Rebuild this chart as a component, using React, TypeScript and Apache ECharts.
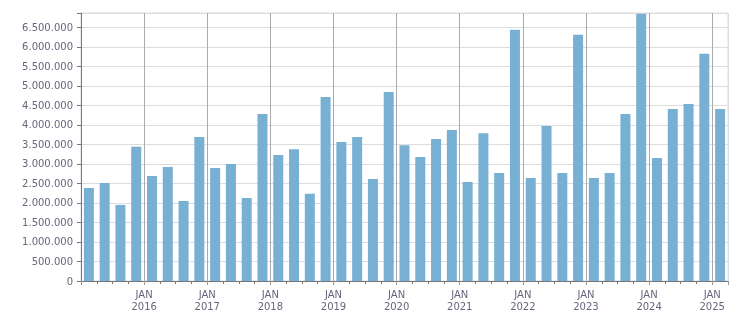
import React, { useEffect, useRef } from "react";
import * as echarts from "echarts";

// Quarterly values, Q1 2015 .. Q1 2025
const quarters: string[] = [
  "2015Q1","2015Q2","2015Q3","2015Q4",
  "2016Q1","2016Q2","2016Q3","2016Q4",
  "2017Q1","2017Q2","2017Q3","2017Q4",
  "2018Q1","2018Q2","2018Q3","2018Q4",
  "2019Q1","2019Q2","2019Q3","2019Q4",
  "2020Q1","2020Q2","2020Q3","2020Q4",
  "2021Q1","2021Q2","2021Q3","2021Q4",
  "2022Q1","2022Q2","2022Q3","2022Q4",
  "2023Q1","2023Q2","2023Q3","2023Q4",
  "2024Q1","2024Q2","2024Q3","2024Q4",
  "2025Q1",
];
const values: number[] = [
  2385000, 2513000, 1950000, 3440000,
  2692000, 2923000, 2051000, 3690000,
  2897000, 3000000, 2128000, 4280000,
  3228000, 3380000, 2239000, 4717000,
  3560000, 3690000, 2615000, 4846000,
  3483000, 3177000, 3637000, 3869000,
  2538000, 3790000, 2769000, 6440000,
  2641000, 3971000, 2769000, 6311000,
  2641000, 2769000, 4280000, 6851000,
  3152000, 4409000, 4537000, 5823000,
  4409000,
];
const startYear = 2015;
const yMax = 6870000;
const yStep = 500000;

const fmt = (v: number) => String(Math.round(v)).replace(/\B(?=(\d{3})+(?!\d))/g, ".");

export default function App() {
  const ref = useRef<HTMLDivElement>(null);
  useEffect(() => {
    if (!ref.current) return;
    const chart = echarts.init(ref.current, null, { renderer: "svg" });
    const n = quarters.length;
    const textStyle = { color: "#66667c", fontFamily: "DejaVu Sans", fontSize: 10 };
    const yearLineColors: string[] = [];
    for (let v = 0; v <= n; v += 4) yearLineColors.push("#aaaaaa");
    yearLineColors.push("#dddddd");
    chart.setOption({
      animation: false,
      grid: { left: 81, right: 23, top: 13, bottom: 32, show: true, borderColor: "#dddddd", borderWidth: 1 },
      xAxis: [
        {
          type: "value",
          min: 0,
          max: n,
          interval: 1,
          axisLine: { show: true, onZero: false, lineStyle: { color: "#777777", width: 1 } },
          axisTick: { show: true, length: 3, lineStyle: { color: "#777777" } },
          axisLabel: { show: false },
          splitLine: { show: false },
        },
        {
          type: "value",
          position: "bottom",
          min: 0,
          max: n,
          interval: 4,
          axisLine: { show: false },
          axisTick: { show: true, length: 4, lineStyle: { color: "#999999" } },
          axisLabel: {
            show: true,
            margin: 7,
            lineHeight: 12.5,
            ...textStyle,
            formatter: (v: number) =>
              v > 0 && v % 4 === 0 && v < n ? "JAN\n" + (startYear + v / 4) : "",
          },
          splitLine: { show: true, lineStyle: { color: yearLineColors, width: 1 } },
        },
      ],
      yAxis: {
        type: "value",
        min: 0,
        max: yMax,
        interval: yStep,
        axisLine: { show: true, lineStyle: { color: "#777777", width: 1 } },
        axisTick: { show: true, length: 4, lineStyle: { color: "#777777" } },
        axisLabel: {
          margin: 8,
          ...textStyle,
          formatter: (v: number) => (v % yStep === 0 ? fmt(v) : ""),
        },
        splitLine: { show: true, lineStyle: { color: "#dddddd", width: 1 } },
      },
      series: [
        {
          type: "bar",
          xAxisIndex: 0,
          barWidth: 10,
          itemStyle: { color: "#78b0d3" },
          data: values.map((v, i) => [i + 0.5, v]),
        },
      ],
    });
    return () => chart.dispose();
  }, []);
  return (
    <div
      ref={ref}
      style={{ position: "fixed", left: 0, top: 0, width: 751, height: 313 }}
    />
  );
}
